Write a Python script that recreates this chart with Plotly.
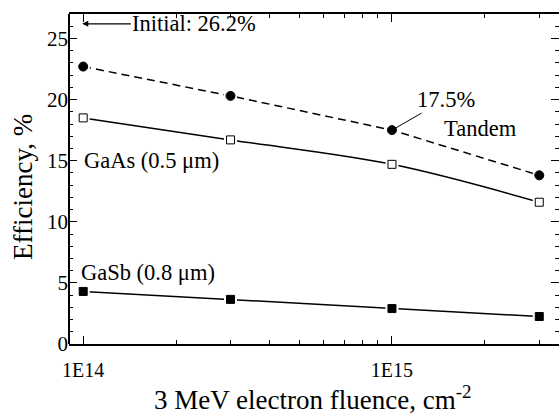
import plotly.graph_objects as go

fluence = [1e14, 3e14, 1e15, 3e15]
tandem = [22.7, 20.3, 17.5, 13.8]
gaas = [18.5, 16.7, 14.7, 11.6]
gasb = [4.3, 3.65, 2.9, 2.25]

x_ticks = [1e14, 1e15]
x_ticktext = ["1E14", "1E15"]
x_minor = [2e14, 3e14, 4e14, 5e14, 6e14, 7e14, 8e14, 9e14, 2e15, 3e15]
y_ticks = [0, 5, 10, 15, 20, 25]

initial = 26.2
ff = "Liberation Serif"

fig = go.Figure()

def add_series(y, dash, fill, shape="linear", symbol="square", size=8):
    fig.add_trace(go.Scatter(x=fluence, y=y, mode="lines",
                             line=dict(color="black", width=1.5, dash=dash, shape=shape),
                             hoverinfo="skip", showlegend=False))
    fig.add_trace(go.Scatter(x=fluence, y=y, mode="markers",
                             marker=dict(symbol="square", size=13, color="white"),
                             hoverinfo="skip", showlegend=False))
    fig.add_trace(go.Scatter(x=fluence, y=y, mode="markers",
                             marker=dict(symbol=symbol, size=size, color=fill,
                                         line=dict(color="black", width=1)),
                             showlegend=False))

add_series(tandem, "8px,5px", "black", symbol="circle", size=9)
add_series(gaas, "solid", "white", shape="spline", size=8)
add_series(gasb, "solid", "black", size=8)

fig.update_layout(
    width=559, height=417,
    margin=dict(l=69, r=0, t=14, b=73, autoexpand=False),
    paper_bgcolor="white", plot_bgcolor="white",
    font=dict(family=ff, size=20, color="black"),
    xaxis=dict(type="log", range=[13.954, 15.541], automargin=False,
               tickmode="array", tickvals=x_ticks, ticktext=x_ticktext,
               ticks="inside", ticklen=8, tickwidth=1.2, tickcolor="black",
               ticklabelstandoff=7,
               minor=dict(tickmode="array", tickvals=x_minor, ticks="inside", ticklen=4, tickwidth=1.2, tickcolor="black"),
               showline=True, linecolor="black", linewidth=2, mirror="ticks",
               showgrid=False, zeroline=False,
               tickfont=dict(family=ff, size=20)),
    yaxis=dict(range=[0, 27], tickmode="array", tickvals=y_ticks, automargin=False,
               ticks="inside", ticklen=8, tickwidth=1.2, tickcolor="black",
               minor=dict(dtick=1, ticks="inside", ticklen=4, tickwidth=1.2, tickcolor="black"),
               showline=False, mirror="ticks",
               showgrid=False, zeroline=False,
               tickfont=dict(family=ff, size=21)),
)
fig.add_shape(type="line", xref="paper", yref="paper", x0=0, x1=0, y0=0, y1=1,
              line=dict(color="black", width=2))

# axis titles
fig.add_annotation(x=0.496, y=-0.1636, xref="paper", yref="paper", showarrow=False,
                   text="3 MeV electron fluence, cm<sup>-2</sup>", font=dict(family=ff, size=27),
                   xanchor="center", yanchor="middle")
fig.add_annotation(x=-0.0939, y=0.4758, xref="paper", yref="paper", showarrow=False,
                   text="Efficiency, %", textangle=-90, font=dict(family=ff, size=27),
                   xanchor="center", yanchor="middle")

fig.add_annotation(x=13.997, y=initial, xref="x", yref="y", ax=112, ay=0,
                   text="Initial: " + f"{initial}%", showarrow=True, arrowhead=2, arrowsize=1,
                   arrowwidth=1.2, arrowcolor="black", font=dict(family=ff, size=22.5))
fig.add_annotation(x=15.0, y=tandem[2], xref="x", yref="y", ax=54, ay=-31,
                   text=f"{tandem[2]}%", showarrow=True, arrowhead=0, arrowwidth=1,
                   arrowcolor="black", standoff=4, font=dict(family=ff, size=22.5))
fig.add_annotation(x=15.162, y=17.6, xref="x", yref="y", text="Tandem",
                   showarrow=False, xanchor="left", font=dict(family=ff, size=22.5))
fig.add_annotation(x=13.997, y=15.0, xref="x", yref="y", text="GaAs (0.5 μm)",
                   showarrow=False, xanchor="left", font=dict(family=ff, size=22.5))
fig.add_annotation(x=13.986, y=5.87, xref="x", yref="y", text="GaSb (0.8 μm)",
                   showarrow=False, xanchor="left", font=dict(family=ff, size=22.5))

fig.write_html("out.html", config={"displayModeBar": False},
               post_script="document.body.style.margin='0';document.body.style.overflow='hidden';")
